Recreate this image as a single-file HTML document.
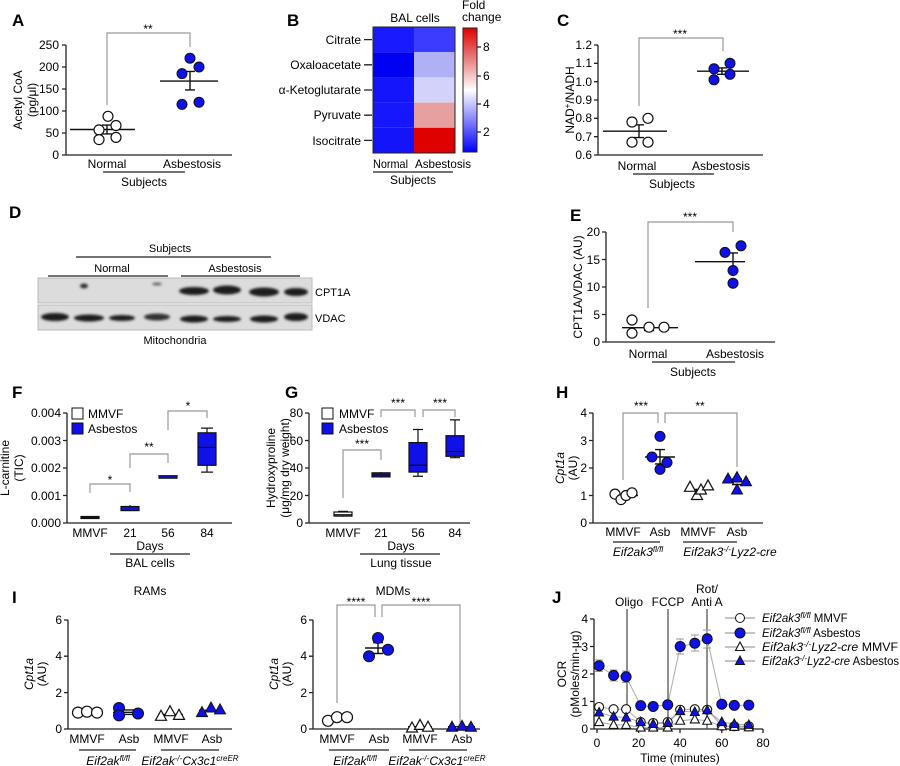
<!DOCTYPE html>
<html><head><meta charset="utf-8"><style>
body{margin:0;background:#fff}
svg{display:block;font-family:"Liberation Sans",Arial,sans-serif;font-size:12px}
.t{text-anchor:middle}.r{text-anchor:end}
.L{font-weight:bold;font-size:17px}
.ax{stroke:#222;stroke-width:1.3;fill:none}
.br{stroke:#999;stroke-width:1.2;fill:none}
.m{stroke:#111;stroke-width:1.4;fill:none}
.oc{fill:#fff;stroke:#111;stroke-width:1.2}
.bc{fill:#1010e8;stroke:#111;stroke-width:1}
.n{font-family:"Liberation Sans Narrow","Liberation Sans",sans-serif;font-size:11px}
</style></head><body>
<svg width="900" height="766" viewBox="0 0 900 766" xmlns="http://www.w3.org/2000/svg">
<defs>
<path id="tw" d="M0,-6 L5.5,4 L-5.5,4Z" fill="#fff" stroke="#111" stroke-width="1.2"/>
<path id="tb" d="M0,-6 L5.5,4 L-5.5,4Z" fill="#1010e8" stroke="#111" stroke-width="1"/>
<path id="sw" d="M0,-5 L4.5,3.5 L-4.5,3.5Z" fill="#fff" stroke="#111" stroke-width="1.1"/>
<path id="sb" d="M0,-5 L4.5,3.5 L-4.5,3.5Z" fill="#1010e8" stroke="#111" stroke-width="1"/>
<linearGradient id="cb" x1="0" y1="0" x2="0" y2="1">
<stop offset="0" stop-color="#e00000"/><stop offset="0.25" stop-color="#e88080"/><stop offset="0.5" stop-color="#ffffff"/><stop offset="0.75" stop-color="#8080ff"/><stop offset="1" stop-color="#0000ff"/></linearGradient>
<filter id="bl"><feGaussianBlur stdDeviation="1.3"/></filter>
</defs>

<!-- A -->
<text class="L" x="12" y="26">A</text>
<path class="ax" d="M66,45V155H232M62,45H66M62,67H66M62,89H66M62,111H66M62,133H66M62,155H66"/>
<g class="r"><text x="59" y="49">250</text><text x="59" y="71">200</text><text x="59" y="93">150</text><text x="59" y="115">100</text><text x="59" y="137">50</text><text x="59" y="159">0</text></g>
<text class="t" transform="translate(22,100) rotate(-90)">Acetyl CoA</text>
<text class="t" transform="translate(36,100) rotate(-90)">(pg/μl)</text>
<path class="br" d="M107,105V33H190V47"/><text class="t" x="148" y="33">**</text>
<path class="m" d="M70,129.5H135M102,133.9H112M102,125.1H112M107,125.1V133.9M160,81.1H218M185,89.9H195M185,71.4H195M190,71.4V89.9"/>
<g class="oc"><circle cx="108" cy="116.3" r="5"/><circle cx="99" cy="129.9" r="5"/><circle cx="116" cy="125.5" r="5"/><circle cx="99" cy="139.6" r="5"/><circle cx="116" cy="137.4" r="5"/></g>
<g class="bc"><circle cx="190" cy="58.2" r="5"/><circle cx="199" cy="67" r="5"/><circle cx="182" cy="73.6" r="5"/><circle cx="182" cy="104.4" r="5"/><circle cx="199" cy="102.2" r="5"/></g>
<text class="t" x="107" y="168">Normal</text><text class="t" x="192" y="168">Asbestosis</text>
<path class="ax" d="M103,172H185"/><text class="t" x="144" y="186">Subjects</text>

<!-- B -->
<text class="L" x="287" y="26">B</text>
<text class="t" x="415" y="22">BAL cells</text>
<rect x="373" y="27" width="41" height="25.2" fill="#1a1aff"/>
<rect x="373" y="52.2" width="41" height="25.2" fill="#0000f2"/>
<rect x="373" y="77.4" width="41" height="25.2" fill="#1515fc"/>
<rect x="373" y="102.6" width="41" height="25.2" fill="#1717fd"/>
<rect x="373" y="127.8" width="41" height="25.2" fill="#1414fb"/>
<rect x="414" y="27" width="41" height="25.2" fill="#3c3cff"/>
<rect x="414" y="52.2" width="41" height="25.2" fill="#b0b0f6"/>
<rect x="414" y="77.4" width="41" height="25.2" fill="#d2d2fa"/>
<rect x="414" y="102.6" width="41" height="25.2" fill="#e6a0a0"/>
<rect x="414" y="127.8" width="41" height="25.2" fill="#df0000"/>
<rect x="373" y="27" width="82" height="126" fill="none" stroke="#222" stroke-width="1"/>
<path class="ax" d="M364,39.6H372M364,64.8H372M364,90H372M364,115.2H372M364,140.4H372"/>
<g class="r"><text x="361" y="44">Citrate</text><text x="361" y="69">Oxaloacetate</text><text x="361" y="94">α-Ketoglutarate</text><text x="361" y="119">Pyruvate</text><text x="361" y="145">Isocitrate</text></g>
<text x="373" y="168" textLength="35" lengthAdjust="spacingAndGlyphs">Normal</text><text x="415" y="168" textLength="56" lengthAdjust="spacingAndGlyphs">Asbestosis</text>
<path class="ax" d="M373,172H453"/><text class="t" x="413" y="184">Subjects</text>
<rect x="463" y="28" width="14" height="124" fill="url(#cb)" stroke="#222" stroke-width="1"/>
<path class="ax" d="M477,47H481M477,76H481M477,104H481M477,132H481"/>
<text x="483" y="51">8</text><text x="483" y="80">6</text><text x="483" y="108">4</text><text x="483" y="136">2</text>
<text x="462" y="9">Fold</text><text x="462" y="21">change</text>

<!-- C -->
<text class="L" x="557" y="26">C</text>
<path class="ax" d="M598,45V155H763M594,45H598M594,63.3H598M594,81.7H598M594,100H598M594,118.3H598M594,136.7H598M594,155H598"/>
<g class="r"><text x="592" y="49">1.2</text><text x="592" y="67">1.1</text><text x="592" y="86">1.0</text><text x="592" y="104">0.9</text><text x="592" y="122">0.8</text><text x="592" y="141">0.7</text><text x="592" y="159">0.6</text></g>
<text class="t" transform="translate(574,100) rotate(-90)">NAD<tspan dy="-4" font-size="8">+</tspan><tspan dy="4">/NADH</tspan></text>
<path class="br" d="M639,106V38H723V51"/><text class="t" x="680" y="38">***</text>
<path class="m" d="M603,131.2H667M634,137.6H644M634,124.8H644M639,124.8V137.6M697,71.2H749M717,74.3H727M717,67.9H727M722,67.9V74.3"/>
<g class="oc"><circle cx="632" cy="122" r="5"/><circle cx="648" cy="118.3" r="5"/><circle cx="632" cy="142.2" r="5"/><circle cx="648" cy="142.2" r="5"/></g>
<g class="bc"><circle cx="714" cy="68.8" r="5"/><circle cx="730" cy="63.3" r="5"/><circle cx="714" cy="79.8" r="5"/><circle cx="730" cy="74.3" r="5"/></g>
<text class="t" x="637" y="170">Normal</text><text class="t" x="721" y="170">Asbestosis</text>
<path class="ax" d="M633,174H714"/><text class="t" x="672" y="188">Subjects</text>

<!-- D -->
<text class="L" x="9" y="218">D</text>
<text class="t n" x="170" y="252">Subjects</text><path class="ax" d="M76,257H271"/>
<text class="t n" x="112" y="272">Normal</text><path class="ax" d="M48,276H168"/>
<text class="t n" x="235" y="272">Asbestosis</text><path class="ax" d="M181,276H300"/>
<rect x="38" y="278" width="274" height="25" fill="#dcdcdc" stroke="#bbb"/>
<rect x="38" y="305" width="274" height="25" fill="#dcdcdc" stroke="#bbb"/>
<g fill="#1a1a1a" filter="url(#bl)">
<ellipse cx="84" cy="286" rx="4" ry="2.5" fill="#333"/><ellipse cx="157" cy="284" rx="5" ry="1.5" fill="#666"/>
<ellipse cx="194" cy="291" rx="15" ry="4"/><ellipse cx="227" cy="290" rx="14" ry="4.5"/><ellipse cx="264" cy="292" rx="15" ry="4.5"/><ellipse cx="296" cy="292" rx="12" ry="4"/>
<ellipse cx="55" cy="317" rx="14" ry="4"/><ellipse cx="89" cy="318" rx="15" ry="3.5"/><ellipse cx="122" cy="318" rx="13" ry="3"/><ellipse cx="157" cy="317" rx="13" ry="3.5" fill="#333"/>
<ellipse cx="194" cy="319" rx="14" ry="3.5"/><ellipse cx="227" cy="319" rx="14" ry="3"/><ellipse cx="264" cy="319" rx="14" ry="3.5"/><ellipse cx="296" cy="317" rx="12" ry="4"/>
</g>
<text class="n" x="315" y="296">CPT1A</text><text class="n" x="315" y="322">VDAC</text>
<text class="t n" x="175" y="344">Mitochondria</text>

<!-- E -->
<text class="L" x="570" y="221">E</text>
<path class="ax" d="M606,232V342H775M602,232H606M602,259.5H606M602,287H606M602,314.5H606M602,342H606"/>
<g class="r"><text x="600" y="236">20</text><text x="600" y="264">15</text><text x="600" y="291">10</text><text x="600" y="319">5</text><text x="600" y="346">0</text></g>
<text class="t" transform="translate(582,287) rotate(-90)">CPT1A/VDAC (AU)</text>
<path class="br" d="M648,308V222H733V232"/><text class="t" x="690" y="221">***</text>
<path class="m" d="M622,327.7H678M644,330.5H654M644,325.5H654M649,325.5V330.5M695,261.7H745M728,270.5H738M728,252.9H738M733,252.9V270.5"/>
<g class="oc"><circle cx="632" cy="320" r="5"/><circle cx="632" cy="333.2" r="5"/><circle cx="649" cy="327.2" r="5"/><circle cx="664" cy="327.2" r="5"/></g>
<g class="bc"><circle cx="725" cy="252.4" r="5"/><circle cx="741" cy="245.8" r="5"/><circle cx="733" cy="270.5" r="5"/><circle cx="733" cy="283.2" r="5"/></g>
<text class="t" x="648" y="358">Normal</text><text class="t" x="735" y="358">Asbestosis</text>
<path class="ax" d="M652,362H735"/><text class="t" x="693" y="376">Subjects</text>

<!-- F -->
<text class="L" x="12" y="398">F</text>
<path class="ax" d="M67,413V523H232M63,413H67M63,440.5H67M63,468H67M63,495.5H67M63,523H67"/>
<g class="r"><text x="61" y="417">0.004</text><text x="61" y="445">0.003</text><text x="61" y="472">0.002</text><text x="61" y="500">0.001</text><text x="61" y="527">0.000</text></g>
<text class="t" transform="translate(9,468) rotate(-90)">L-carnitine</text>
<text class="t" transform="translate(23,468) rotate(-90)">(TIC)</text>
<rect x="72" y="408" width="11" height="11" fill="#fff" stroke="#111"/><text x="88" y="418">MMVF</text>
<rect x="72" y="423" width="11" height="11" fill="#1010e8" stroke="#111"/><text x="88" y="433">Asbestos</text>
<path class="br" d="M90,493V484H130V492M130,468V454H168V463M168,430V411H207V418"/>
<text class="t" x="110" y="484">*</text><text class="t" x="149" y="451">**</text><text class="t" x="188" y="410">*</text>
<g stroke="#111" stroke-width="1.2">
<rect x="81" y="516.5" width="18" height="2" fill="#111"/>
<path d="M130,505.1V511.2"/><rect x="121" y="506.5" width="18" height="4.1" fill="#1010e8"/>
<rect x="159" y="475.7" width="18" height="2.5" fill="#1010e8"/>
<path d="M207,428.1V472.1M201,428.1H213M201,472.1H213" fill="none"/><rect x="198" y="432.8" width="18" height="32.5" fill="#1010e8"/><path d="M198,447.4H216"/>
</g>
<g class="t"><text x="90" y="537">MMVF</text><text x="130" y="537">21</text><text x="168" y="537">56</text><text x="207" y="537">84</text><text x="150" y="550">Days</text></g>
<path class="ax" d="M110,554H190"/><text class="t" x="150" y="567">BAL cells</text>

<!-- G -->
<text class="L" x="285" y="398">G</text>
<path class="ax" d="M309,413V523H470M305,413H309M305,440.5H309M305,468H309M305,495.5H309M305,523H309"/>
<g class="r"><text x="303" y="417">80</text><text x="303" y="445">60</text><text x="303" y="472">40</text><text x="303" y="500">20</text><text x="303" y="527">0</text></g>
<text class="t" transform="translate(275,468) rotate(-90)">Hydroxyproline</text>
<text class="t" transform="translate(289,468) rotate(-90)">(μg/mg dry weight)</text>
<rect x="322" y="408" width="11" height="11" fill="#fff" stroke="#111"/><text x="339" y="418">MMVF</text>
<rect x="322" y="423" width="11" height="11" fill="#1010e8" stroke="#111"/><text x="339" y="433">Asbestos</text>
<path class="br" d="M343,498V450H381V460M381,417V410H415V417M423,417V410H455V417"/>
<text class="t" x="362" y="448">***</text><text class="t" x="398" y="407">***</text><text class="t" x="440" y="407">***</text>
<g stroke="#111" stroke-width="1.2">
<path d="M343,511.3V516.8M338,511.3H348"/><rect x="334" y="512" width="18" height="4.1" fill="#fff"/><path d="M334,514.75H352"/>
<path d="M381,472.1V477.6"/><rect x="372" y="472.8" width="18" height="4.1" fill="#1010e8"/><path d="M372,474.9H390"/>
<path d="M418,429.5V476.25M413,429.5H423M413,476.25H423"/><rect x="409" y="442.6" width="18" height="29.5" fill="#1010e8"/><path d="M409,465.25H427"/>
<path d="M455,419.9V457.7M450,419.9H460M450,457.7H460"/><rect x="446" y="435.7" width="18" height="20.6" fill="#1010e8"/><path d="M446,451.5H464"/>
</g>
<g class="t"><text x="343" y="537">MMVF</text><text x="381" y="537">21</text><text x="418" y="537">56</text><text x="455" y="537">84</text><text x="401" y="550">Days</text></g>
<path class="ax" d="M360,554H440"/><text class="t" x="401" y="567">Lung tissue</text>

<!-- H -->
<text class="L" x="556" y="398">H</text>
<path class="ax" d="M593,413V523H763M589,413H593M589,440.5H593M589,468H593M589,495.5H593M589,523H593"/>
<g class="r"><text x="587" y="417">4</text><text x="587" y="445">3</text><text x="587" y="472">2</text><text x="587" y="500">1</text><text x="587" y="527">0</text></g>
<text class="t" transform="translate(564,468) rotate(-90)" font-style="italic">Cpt1a</text>
<text class="t" transform="translate(577,468) rotate(-90)">(AU)</text>
<path class="br" d="M623,480V413H658V423M665,423V413H737V467"/>
<text class="t" x="641" y="410">***</text><text class="t" x="700" y="410">**</text>
<path class="m" d="M610,495.5H638M645,457H675M655,463.9H665M655,449.6H665M660,449.6V463.9M685,489.5H712M724,481.75H750M732,484.5H742M732,479H742"/>
<g class="oc"><circle cx="615" cy="494.1" r="5"/><circle cx="621" cy="499.6" r="5"/><circle cx="626" cy="495.5" r="5"/><circle cx="632" cy="492.8" r="5"/></g>
<g class="bc"><circle cx="660" cy="436.4" r="5"/><circle cx="652" cy="457" r="5"/><circle cx="667" cy="462.5" r="5"/><circle cx="660" cy="469.4" r="5"/></g>
<use href="#tw" x="690" y="487.3"/><use href="#tw" x="697" y="495.5"/><use href="#tw" x="701" y="490"/><use href="#tw" x="708" y="485.9"/>
<use href="#tb" x="728" y="479"/><use href="#tb" x="737" y="477.6"/><use href="#tb" x="746" y="481.75"/><use href="#tb" x="737" y="490"/>
<g class="t"><text x="623" y="536">MMVF</text><text x="660" y="536">Asb</text><text x="698" y="536">MMVF</text><text x="737" y="536">Asb</text></g>
<path class="ax" d="M613,542H660M683,542H737"/>
<text class="t" x="638" y="556" font-style="italic">Eif2ak3<tspan dy="-4" font-size="8">fl/fl</tspan></text>
<text class="t" x="730" y="556" font-style="italic">Eif2ak3<tspan dy="-4" font-size="8">-/-</tspan><tspan dy="4">Lyz2-cre</tspan></text>

<!-- I -->
<text class="L" x="12" y="603">I</text>
<text class="t" x="150" y="595">RAMs</text>
<path class="ax" d="M68,620V729H232M64,620H68M64,656.2H68M64,692.6H68M64,729H68"/>
<g class="r"><text x="62" y="624">6</text><text x="62" y="660">4</text><text x="62" y="697">2</text><text x="62" y="733">0</text></g>
<text class="t" transform="translate(33,674) rotate(-90)" font-style="italic">Cpt1a</text>
<text class="t" transform="translate(46,674) rotate(-90)">(AU)</text>
<path class="m" d="M74,712H101M113,712.3H142M124,714.4H134M124,709.9H134M158,714.4H183M199,710.3H223"/>
<g class="oc"><circle cx="78" cy="712.6" r="5.5"/><circle cx="87" cy="711.7" r="5.5"/><circle cx="97" cy="712.6" r="5.5"/></g>
<g class="bc"><circle cx="119" cy="708" r="5.5"/><circle cx="119" cy="715.35" r="5.5"/><circle cx="138" cy="713.5" r="5.5"/></g>
<use href="#tw" x="161" y="716.3"/><use href="#tw" x="170" y="711.7"/><use href="#tw" x="179" y="715.35"/>
<use href="#tb" x="202" y="712.6"/><use href="#tb" x="211" y="708"/><use href="#tb" x="220" y="709.9"/>
<g class="t"><text x="87" y="743">MMVF</text><text x="129" y="743">Asb</text><text x="171" y="743">MMVF</text><text x="212" y="743">Asb</text></g>
<path class="ax" d="M79,750H136M161,750H219"/>
<text class="t" x="108" y="765" font-style="italic">Eif2ak<tspan dy="-4" font-size="8">fl/fl</tspan></text>
<text class="t" x="190" y="765" font-style="italic">Eif2ak<tspan dy="-4" font-size="8">-/-</tspan><tspan dy="4">Cx3c1</tspan><tspan dy="-4" font-size="8">creER</tspan></text>

<text class="t" x="393" y="595">MDMs</text>
<path class="ax" d="M313,620V729H480M309,620H313M309,656.2H313M309,692.6H313M309,729H313"/>
<g class="r"><text x="307" y="624">6</text><text x="307" y="660">4</text><text x="307" y="697">2</text><text x="307" y="733">0</text></g>
<text class="t" transform="translate(278,674) rotate(-90)" font-style="italic">Cpt1a</text>
<text class="t" transform="translate(291,674) rotate(-90)">(AU)</text>
<path class="br" d="M337,703V605H375V617M382,617V605H460V723"/>
<text class="t" x="356" y="606">****</text><text class="t" x="421" y="606">****</text>
<path class="m" d="M324,718.4H350M365,648H392M373,653.5H383M373,642.5H383M378,642.5V653.5M408,726.8H432M448,726.7H475"/>
<g class="oc"><circle cx="328" cy="720.8" r="5.5"/><circle cx="337" cy="717.2" r="5.5"/><circle cx="347" cy="717.2" r="5.5"/></g>
<g class="bc"><circle cx="378" cy="638" r="5.5"/><circle cx="369" cy="656.2" r="5.5"/><circle cx="388" cy="649.8" r="5.5"/></g>
<use href="#tw" x="412" y="728"/><use href="#tw" x="420" y="725.4"/><use href="#tw" x="428" y="727.2"/>
<use href="#tb" x="452" y="727.2"/><use href="#tb" x="462" y="726.3"/><use href="#tb" x="471" y="727.2"/>
<g class="t"><text x="337" y="743">MMVF</text><text x="379" y="743">Asb</text><text x="420" y="743">MMVF</text><text x="462" y="743">Asb</text></g>
<path class="ax" d="M329,750H389M409,750H467"/>
<text class="t" x="355" y="765" font-style="italic">Eif2ak<tspan dy="-4" font-size="8">fl/fl</tspan></text>
<text class="t" x="437" y="765" font-style="italic">Eif2ak<tspan dy="-4" font-size="8">-/-</tspan><tspan dy="4">Cx3c1</tspan><tspan dy="-4" font-size="8">creER</tspan></text>

<!-- J -->
<text class="L" x="552" y="603">J</text>
<path class="ax" d="M594,619V729H763M590,619H594M590,646.5H594M590,674H594M590,701.5H594M590,729H594M597,729V733M638.6,729V733M680,729V733M721.8,729V733M763,729V733"/>
<g class="r"><text x="588" y="623">4</text><text x="588" y="651">3</text><text x="588" y="678">2</text><text x="588" y="706">1</text><text x="588" y="733">0</text></g>
<g class="t"><text x="597" y="747">0</text><text x="638.6" y="747">20</text><text x="680" y="747">40</text><text x="721.8" y="747">60</text><text x="763" y="747">80</text><text x="680" y="762">Time (minutes)</text></g>
<text class="t" transform="translate(566,674) rotate(-90)">OCR</text>
<text class="t" transform="translate(579,674) rotate(-90)">(pMoles/min-μg)</text>
<path d="M627,609V729M668,609V729M707,609V729" stroke="#555" stroke-width="1.3"/>
<g class="t"><text x="629" y="606">Oligo</text><text x="668" y="606">FCCP</text><text x="707" y="606">Anti A</text><text x="707" y="593">Rot/</text></g>
<g fill="none" stroke="#aaa" stroke-width="1">
<polyline points="599.1,707 613.6,709.2 626.1,709.2 640.7,722.1 653.2,723 667.7,722.1 680.2,709.75 694.8,709.2 707.2,709.75 721.8,725.7 734.3,726.25 748.8,726.25"/>
<polyline points="599.1,665.75 613.6,675.4 626.1,676.75 640.7,705.6 653.2,706.45 667.7,704.8 680.2,646.5 694.8,643.2 707.2,638.8 721.8,704.25 734.3,705.35 748.8,705.1"/>
<polyline points="599.1,722.1 613.6,724.9 626.1,724.9 640.7,727.6 653.2,727.6 667.7,727.6 680.2,720.75 694.8,719.4 707.2,720.75 721.8,726.25 734.3,726.8 748.8,727.35"/>
<polyline points="599.1,712.5 613.6,716.6 626.1,717.45 640.7,722.1 653.2,724 667.7,723 680.2,711.1 694.8,711.95 707.2,710.3 721.8,722.1 734.3,724 748.8,724.9"/>
<path d="M599.1,660V671.5M595,660H603M595,671.5H603M613.6,670V681M609.5,670H617.5M609.5,681H617.5M626.1,671V682.5M622,671H630M622,682.5H630M680.2,639V654M676,639H684M676,654H684M694.8,635V651M691,635H699M691,651H699M707.2,630V648M703,630H711M703,648H711" stroke="#999"/>
</g>
<g fill="#fff" stroke="#111" stroke-width="1.1">
<circle cx="599.1" cy="707" r="4.5"/><circle cx="613.6" cy="709.2" r="4.5"/><circle cx="626.1" cy="709.2" r="4.5"/><circle cx="640.7" cy="722.1" r="4.5"/><circle cx="653.2" cy="723" r="4.5"/><circle cx="667.7" cy="722.1" r="4.5"/><circle cx="680.2" cy="709.75" r="4.5"/><circle cx="694.8" cy="709.2" r="4.5"/><circle cx="707.2" cy="709.75" r="4.5"/><circle cx="721.8" cy="725.7" r="4.5"/><circle cx="734.3" cy="726.25" r="4.5"/><circle cx="748.8" cy="726.25" r="4.5"/>
</g>
<use href="#sw" x="599.1" y="722.1"/><use href="#sw" x="613.6" y="724.9"/><use href="#sw" x="626.1" y="724.9"/><use href="#sw" x="640.7" y="727.6"/><use href="#sw" x="653.2" y="727.6"/><use href="#sw" x="667.7" y="727.6"/><use href="#sw" x="680.2" y="720.75"/><use href="#sw" x="694.8" y="719.4"/><use href="#sw" x="707.2" y="720.75"/><use href="#sw" x="721.8" y="726.25"/><use href="#sw" x="734.3" y="726.8"/><use href="#sw" x="748.8" y="727.35"/>
<use href="#sb" x="599.1" y="712.5"/><use href="#sb" x="613.6" y="716.6"/><use href="#sb" x="626.1" y="717.45"/><use href="#sb" x="640.7" y="722.1"/><use href="#sb" x="653.2" y="724"/><use href="#sb" x="667.7" y="723"/><use href="#sb" x="680.2" y="711.1"/><use href="#sb" x="694.8" y="711.95"/><use href="#sb" x="707.2" y="710.3"/><use href="#sb" x="721.8" y="722.1"/><use href="#sb" x="734.3" y="724"/><use href="#sb" x="748.8" y="724.9"/>
<g fill="#1010e8" stroke="#111" stroke-width="1">
<circle cx="599.1" cy="665.75" r="5"/><circle cx="613.6" cy="675.4" r="5"/><circle cx="626.1" cy="676.75" r="5"/><circle cx="640.7" cy="705.6" r="5"/><circle cx="653.2" cy="706.45" r="5"/><circle cx="667.7" cy="704.8" r="5"/><circle cx="680.2" cy="646.5" r="5"/><circle cx="694.8" cy="643.2" r="5"/><circle cx="707.2" cy="638.8" r="5"/><circle cx="721.8" cy="704.25" r="5"/><circle cx="734.3" cy="705.35" r="5"/><circle cx="748.8" cy="705.1" r="5"/>
</g>
<g stroke="#888" stroke-width="1"><path d="M725,618H755M725,633H755M725,647H755M725,661H755"/></g>
<circle cx="740" cy="618" r="4.5" fill="#fff" stroke="#111"/>
<circle cx="740" cy="633" r="5" fill="#1010e8" stroke="#111"/>
<use href="#sw" x="740" y="647"/><use href="#sb" x="740" y="661"/>
<g font-size="11.5"><text x="762" y="622"><tspan font-style="italic">Eif2ak3<tspan dy="-4" font-size="8">fl/fl</tspan></tspan><tspan dy="4"> MMVF</tspan></text>
<text x="762" y="637"><tspan font-style="italic">Eif2ak3<tspan dy="-4" font-size="8">fl/fl</tspan></tspan><tspan dy="4"> Asbestos</tspan></text>
<text x="762" y="651" textLength="136" lengthAdjust="spacingAndGlyphs"><tspan font-style="italic">Eif2ak3<tspan dy="-4" font-size="8">-/-</tspan><tspan dy="4">Lyz2-cre</tspan></tspan> MMVF</text>
<text x="762" y="665" textLength="137" lengthAdjust="spacingAndGlyphs"><tspan font-style="italic">Eif2ak3<tspan dy="-4" font-size="8">-/-</tspan><tspan dy="4">Lyz2-cre</tspan></tspan> Asbestos</text></g>
</svg>
</body></html>
